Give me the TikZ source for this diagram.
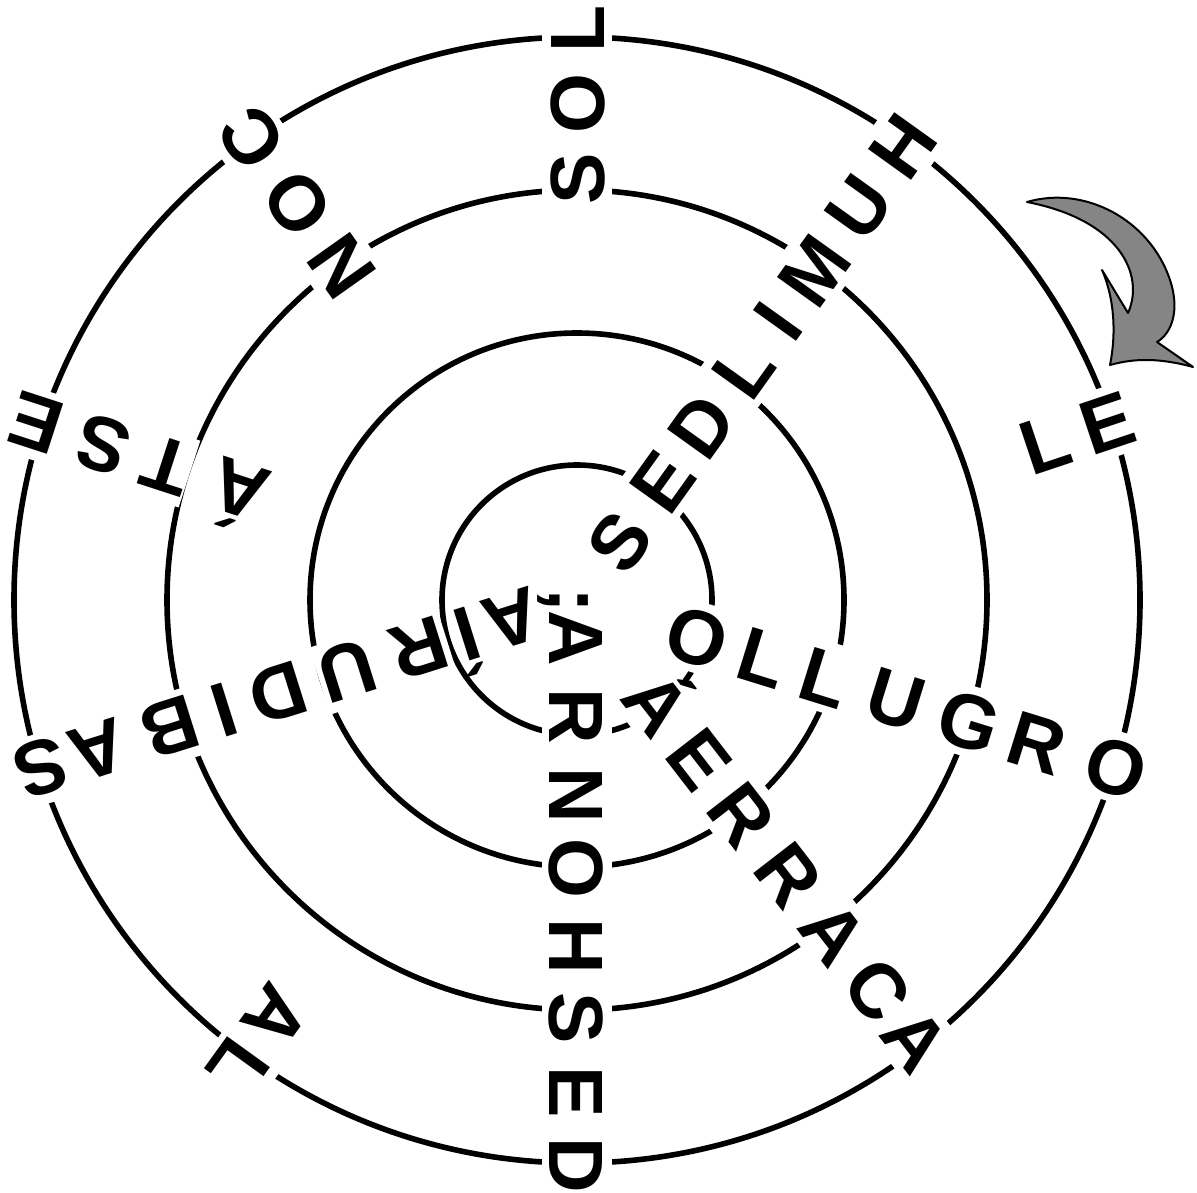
\documentclass[tikz,border=0pt]{standalone}
\usepackage{fontspec}
\newfontfamily\lf{Liberation Sans}
\definecolor{arrowgray}{HTML}{858585}
\begin{document}
\begin{tikzpicture}[x=0.5pt,y=-0.5pt,
  lt/.style={font=\lf\bfseries\fontsize{38.5pt}{40pt}\selectfont, fill=white,
    inner xsep=0.5pt, inner ysep=3.75pt, text height=27.6pt, text depth=0pt},
  ring/.style={line width=2.8pt},
  arr/.style={line width=1pt, fill=arrowgray, line join=round}]
\useasboundingbox (0,0) rectangle (1197,1192);
\coordinate (c) at (577,600);
\foreach \rr [count=\k] in {135,267,410,563}
  \draw[ring] (c) circle[radius=\rr*0.5pt] coordinate (ring\k);
\foreach \ang/\wlist [count=\i] in {
  90/{S/421,O/496,L/571},
  54.4/{S/72,E/146,D/214,L/284,I/344,M/406,U/484,H/558},
  18.5/{L/494,E/559},
  -17.2/{O/126,L/194.5,L/260,U/334,G/410.5,R/482,O/564},
  -52.3/{Á/131,E/201,R/271,R/347,A/420,C/493,A/555},
  -90/{;/0,A/38,R/116,N/195,O/268,H/346,S/418,E/492,D/565},
  -125.8/{A/514,L/577},
  -162.5/{A/68,Í/115,R/165,U/241,D/313,I/370,B/426,A/502,S/562},
  162/{Á/355,T/432,S/499,E/569},
  125.3/{N/408,O/485,C/565}} {
  \foreach \chr/\rad [count=\j] in \wlist {
    \node[lt, rotate=\ang] (l\i-\j) at ({577+\rad*cos(\ang)},{600-\rad*sin(\ang)}) {\chr};
  }
}
% curved arrow
\draw[arr] (1027,202) .. controls (1085,185) and (1150,220) .. (1170,280)
  .. controls (1180,310) and (1172,333) .. (1157,342)
  -- (1193,367)
  .. controls (1160,358) and (1135,358) .. (1110,365)
  .. controls (1116,335) and (1115,300) .. (1102,270)
  -- (1128,313)
  .. controls (1145,275) and (1120,220) .. cycle;
\end{tikzpicture}
\end{document}
